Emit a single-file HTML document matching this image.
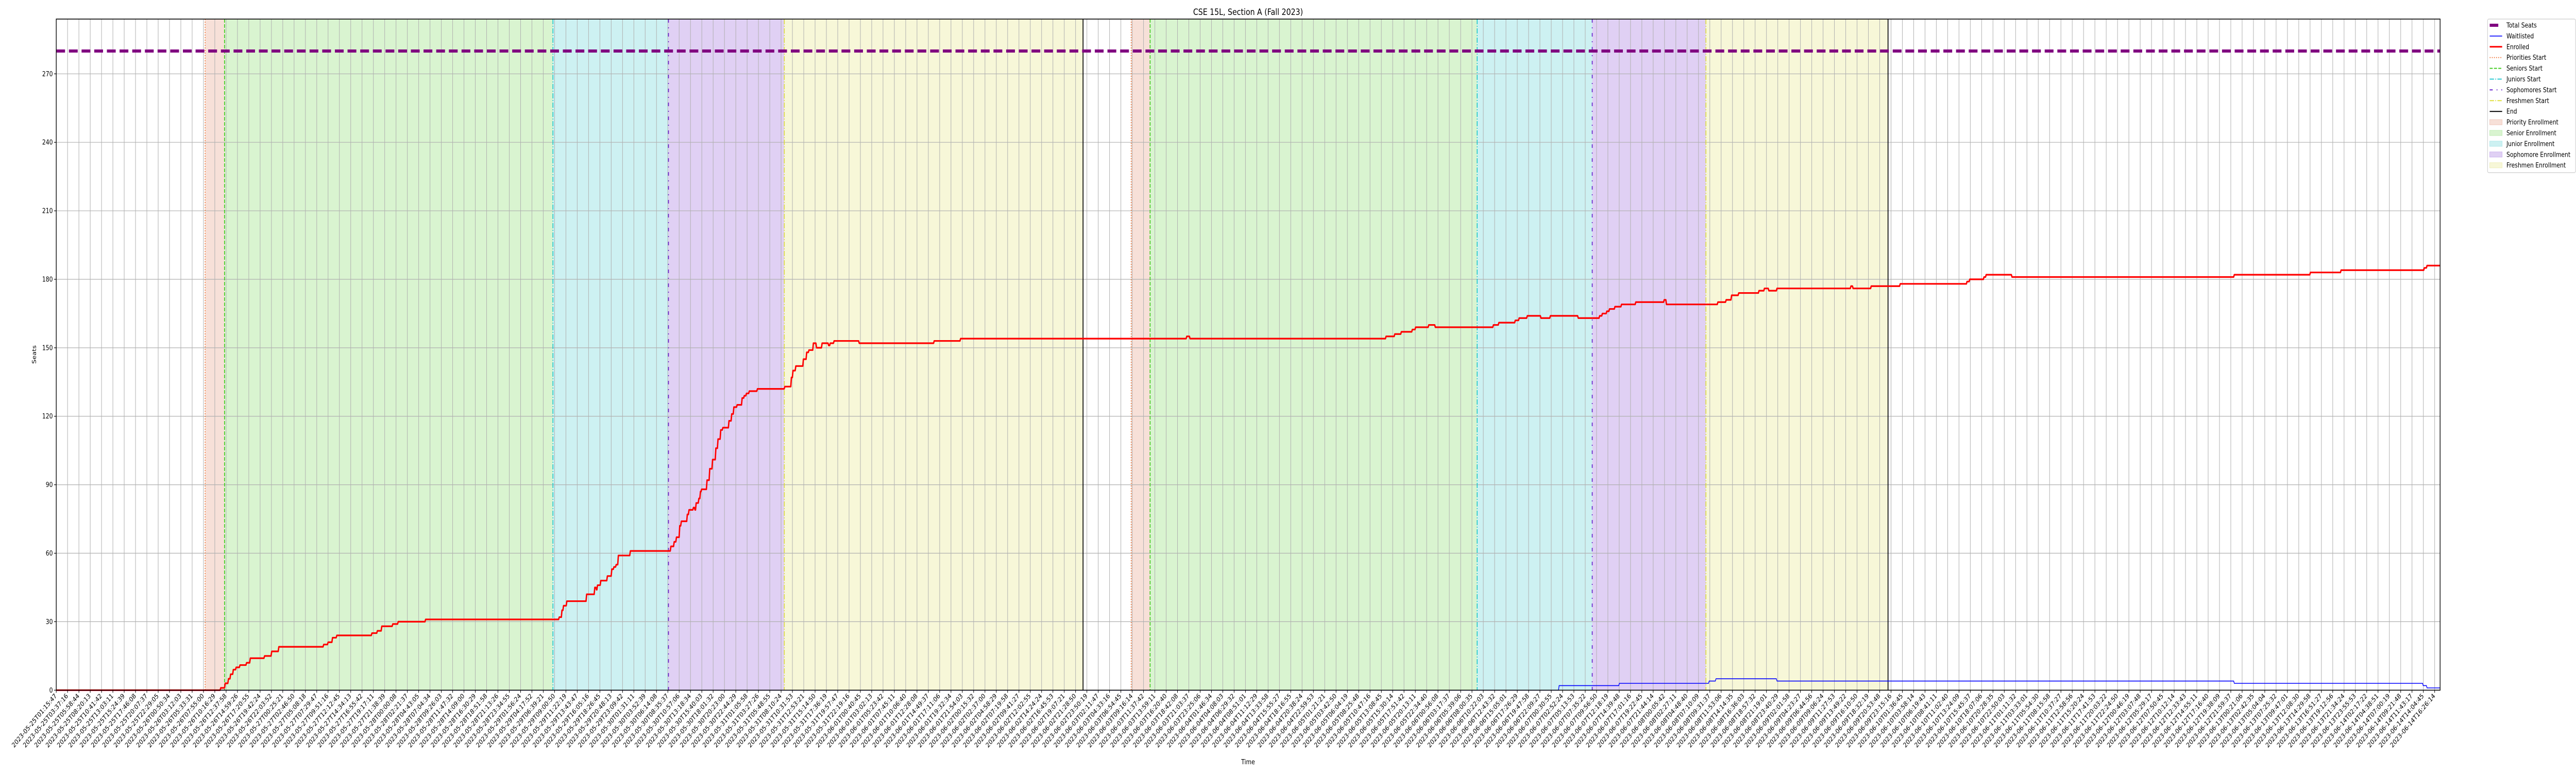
<!DOCTYPE html>
<html><head><meta charset="utf-8"><title>CSE 15L, Section A (Fall 2023)</title>
<style>
html,body{margin:0;padding:0;background:#fff;width:100%;height:100%;overflow:hidden;}
svg{display:block;width:100vw;height:100vh;font-family:"DejaVu Sans","Liberation Sans",sans-serif;}
</style></head>
<body>
<svg id="chart" viewBox="0 0 6000 1500" preserveAspectRatio="none" xmlns="http://www.w3.org/2000/svg" overflow="hidden">
<rect x="0" y="0" width="6000" height="1500" fill="#fff"/>
<g id="shades"></g>
<g id="grid"></g>
<g id="events"></g>
<g id="series"></g>
<rect x="131" y="37" width="5552.5" height="1302.3" fill="none" stroke="#000" stroke-width="1.6"/>
<g id="axes"></g>
<text x="2907" y="29" text-anchor="middle" font-size="17" fill="#000">CSE 15L, Section A (Fall 2023)</text>
<text x="2907" y="1483" text-anchor="middle" font-size="13" fill="#000">Time</text>
<text x="84" y="688" text-anchor="middle" font-size="13" fill="#000" transform="rotate(-90 84 688)">Seats</text>
<g id="legend"></g>
</svg>
<script>
// ---- data ----
const totalSeats = 280;
const yTicks = [0,30,60,90,120,150,180,210,240,270];
const eventNames = ["Priorities Start","Seniors Start","Juniors Start","Sophomores Start","Freshmen Start","End"];
const cycle1Events = [13.15,14.86,43.86,54.06,64.29,90.67];
const cycle2Events = [94.92,96.59,125.47,135.63,145.67,161.75];
const enrolledX = [0,14.23,14.47,14.86,15.15,15.34,15.58,15.83,16.17,16.75,17.08,18.34,18.97,19.60,23.56,23.95,24.34,24.72,27.82,28.30,28.69,29.66,30.14,32.56,44.36,44.60,44.74,45.03,46.78,47.50,47.65,47.74,48.03,48.61,49.0,49.19,49.39,49.58,50.64,54.22,54.51,54.71,55.0,55.14,55.67,55.82,56.21,56.35,56.45,56.69,56.83,56.93,57.41,57.65,57.90,58.19,58.38,58.62,58.81,59.35,59.59,59.78,60.07,60.51,60.70,60.89,61.14,61.86,64.28,64.86,65.0,65.25,65.92,66.21,66.41,66.80,67.08,67.57,68.15,68.29,68.63,70.85,77.47,79.80,99.77,100.06,117.37,118.14,118.72,119.69,119.98,121.14,121.72,126.85,127.33,128.78,129.12,129.84,131.05,131.88,134.34,136.23,136.47,136.86,137.10,137.58,138.16,139.42,141.93,142.13,146.67,147.40,147.88,148.51,150.30,150.78,151.17,151.89,158.42,158.61,160.21,162.77,168.67,168.91,170.17,170.36,172.64,192.27,198.99,201.70,209.05,209.29,210.5];
const enrolledY = [0,0,1,3,5,7,9,10,11,12,14,15,17,19,20,21,23,24,25,26,28,29,30,31,32,35,37,39,42,45,44,46,48,50,53,54,55,59,61,63,65,67,72,74,77,79,80,79,82,84,87,88,92,97,101,106,110,114,115,118,121,124,125,128,129,130,131,132,133,137,140,142,145,148,149,152,150,152,151,152,153,152,153,154,155,154,155,156,157,158,159,160,159,160,161,162,163,164,163,164,163,164,165,166,167,168,169,170,171,169,170,171,173,174,175,176,175,176,177,176,177,178,179,180,181,182,181,182,183,184,185,186,186];
const waitX = [0,132.36,132.65,137.97,145.90,146.5,151.89,192.27,208.95,209.29,210.5];
const waitY = [0,0,2,3,4,5,4,3,2,1,1];
const tickCount = 211;
const tickStart = Date.UTC(2023,4,25,1,15,47);
const tickEnd = Date.UTC(2023,5,14,16,26,14);
const tickLabels = [];
for (let i=0;i<tickCount;i++){
  const d = new Date(tickStart + Math.round((tickEnd-tickStart)*i/(tickCount-1)/1000)*1000);
  tickLabels.push(d.toISOString().slice(0,19));
}
// ---- layout ----
const NS="http://www.w3.org/2000/svg";
const X0=131,X1=5683.5,Y0=1339.3,Y1=37,XMAX=210.5,YMAX=294;
const xs=v=>X0+v*(X1-X0)/XMAX;
const ys=v=>Y0-v*(Y0-Y1)/YMAX;
function mk(tag,attrs,parent){const e=document.createElementNS(NS,tag);for(const k in attrs)e.setAttribute(k,attrs[k]);parent.appendChild(e);return e;}
const shades=document.getElementById('shades'),grid=document.getElementById('grid'),events=document.getElementById('events'),series=document.getElementById('series'),axes=document.getElementById('axes'),legend=document.getElementById('legend');
const shadeColors=["#f7e0d8","#d9f4d0","#cdf1f2","#e0d0f4","#f7f7d8"];
const shadeNames=["priority-enrollment","senior-enrollment","junior-enrollment","sophomore-enrollment","freshmen-enrollment"];
[cycle1Events,cycle2Events].forEach((ev,c)=>{
  for(let k=0;k<5;k++){
    const r=mk('rect',{x:xs(ev[k]),y:Y1,width:xs(ev[k+1])-xs(ev[k]),height:Y0-Y1,fill:shadeColors[k]},shades);
    
    
  }
});
// grid
for(let i=0;i<tickCount;i++){
  const x=X0+i*26.38;
  const l=mk('line',{x1:x,x2:x,y1:Y1,y2:Y0,stroke:"#b0b0b0","stroke-width":1.2},grid);
  
  
  const t=mk('line',{x1:x,x2:x,y1:Y0,y2:Y0+5,stroke:"#000","stroke-width":1.2},axes);
  
  
  const tx=mk('text',{x:x+2,y:Y0+12,"font-size":13,"text-anchor":"end",transform:`rotate(-45 ${x+2} ${Y0+12})`,fill:"#000"},axes);
  tx.textContent=tickLabels[i];
  
  
}
yTicks.forEach(v=>{
  const y=ys(v);
  const l=mk('line',{x1:X0,x2:X1,y1:y,y2:y,stroke:"#b0b0b0","stroke-width":1.2},grid);
  
  
  const t=mk('line',{x1:X0-5,x2:X0,y1:y,y2:y,stroke:"#000","stroke-width":1.2},axes);
  
  
  const tx=mk('text',{x:X0-8,y:y+4.5,"font-size":13,"text-anchor":"end",fill:"#000"},axes);
  tx.textContent=String(v);
  
  
});
// event lines
const evStyles=[
 {stroke:"#f07030",dash:"2,3",w:1.8},
 {stroke:"#44cc22",dash:"7,3",w:2},
 {stroke:"#11c4cc",dash:"10,3,2,3",w:1.8},
 {stroke:"#6622cc",dash:"7,9,2,9",w:2},
 {stroke:"#dddd33",dash:"10,3,2,3",w:1.8},
 {stroke:"#000000",dash:"none",w:2}];
const evKeys=["priorities-start","seniors-start","juniors-start","sophomores-start","freshmen-start","end"];
[cycle1Events,cycle2Events].forEach(ev=>{
  ev.forEach((v,k)=>{
    const s=evStyles[k];
    const l=mk('line',{x1:xs(v),x2:xs(v),y1:Y1,y2:Y0,stroke:s.stroke,"stroke-width":s.w,"stroke-dasharray":s.dash},events);
    
    
  });
});
// series
function stepPath(X,Y){let d=`M${xs(X[0])},${ys(Y[0])}`;for(let i=1;i<X.length;i++){const xn=Math.min(xs(X[i])+1.5,X1);d+=`L${xs(X[i])},${ys(Y[i-1])}L${xn},${ys(Y[i])}`;}return d;}
const ts=mk('line',{x1:X0,x2:X1,y1:ys(totalSeats),y2:ys(totalSeats),stroke:"#800080","stroke-width":6,"stroke-dasharray":"20.5,9"},series);


const en=mk('path',{d:stepPath(enrolledX,enrolledY),fill:"none",stroke:"#ff0000","stroke-width":3.2,"stroke-linejoin":"round"},series);


const wl=mk('path',{d:stepPath(waitX,waitY),fill:"none",stroke:"#0000ff","stroke-width":1.6},series);


// legend
mk('rect',{x:5794,y:37,width:205,height:298,rx:3,fill:"#fff","fill-opacity":0.8,stroke:"#cccccc","stroke-width":1.2},legend);
const legItems=[
 {n:"Total Seats",type:"line",stroke:"#800080",w:6,dash:"20,9",len:21},
 {n:"Waitlisted",type:"line",stroke:"#0000ff",w:1.6,dash:"none"},
 {n:"Enrolled",type:"line",stroke:"#ff0000",w:3,dash:"none"},
 {n:"Priorities Start",type:"line",stroke:"#f07030",w:1.8,dash:"2,3"},
 {n:"Seniors Start",type:"line",stroke:"#44cc22",w:2,dash:"7,3"},
 {n:"Juniors Start",type:"line",stroke:"#11c4cc",w:1.8,dash:"10,3,2,3"},
 {n:"Sophomores Start",type:"line",stroke:"#6622cc",w:2,dash:"7,9,2,9"},
 {n:"Freshmen Start",type:"line",stroke:"#dddd33",w:1.8,dash:"10,3,2,3"},
 {n:"End",type:"line",stroke:"#000",w:2,dash:"none"},
 {n:"Priority Enrollment",type:"rect",fill:"#f7e0d8",edge:"#f0c8bc"},
 {n:"Senior Enrollment",type:"rect",fill:"#d9f4d0",edge:"#c0ecb4"},
 {n:"Junior Enrollment",type:"rect",fill:"#cdf1f2",edge:"#b0e8ea"},
 {n:"Sophomore Enrollment",type:"rect",fill:"#e0d0f4",edge:"#ccb4ee"},
 {n:"Freshmen Enrollment",type:"rect",fill:"#f7f7d8",edge:"#eeeebc"}];
legItems.forEach((it,i)=>{
  const cy=49+i*20.9;
  const g=mk('g',{},legend);
  
  
  if(it.type==="line"){mk('line',{x1:5799,x2:5799+(it.len||29),y1:cy,y2:cy,stroke:it.stroke,"stroke-width":it.w,"stroke-dasharray":it.dash},g);}
  else{mk('rect',{x:5799,y:cy-5,width:29,height:10,fill:it.fill,stroke:it.edge,"stroke-width":1},g);}
  const t=mk('text',{x:5838,y:cy+4.5,"font-size":13,fill:"#000"},g);
  t.textContent=it.n;
});
</script>
</body></html>
